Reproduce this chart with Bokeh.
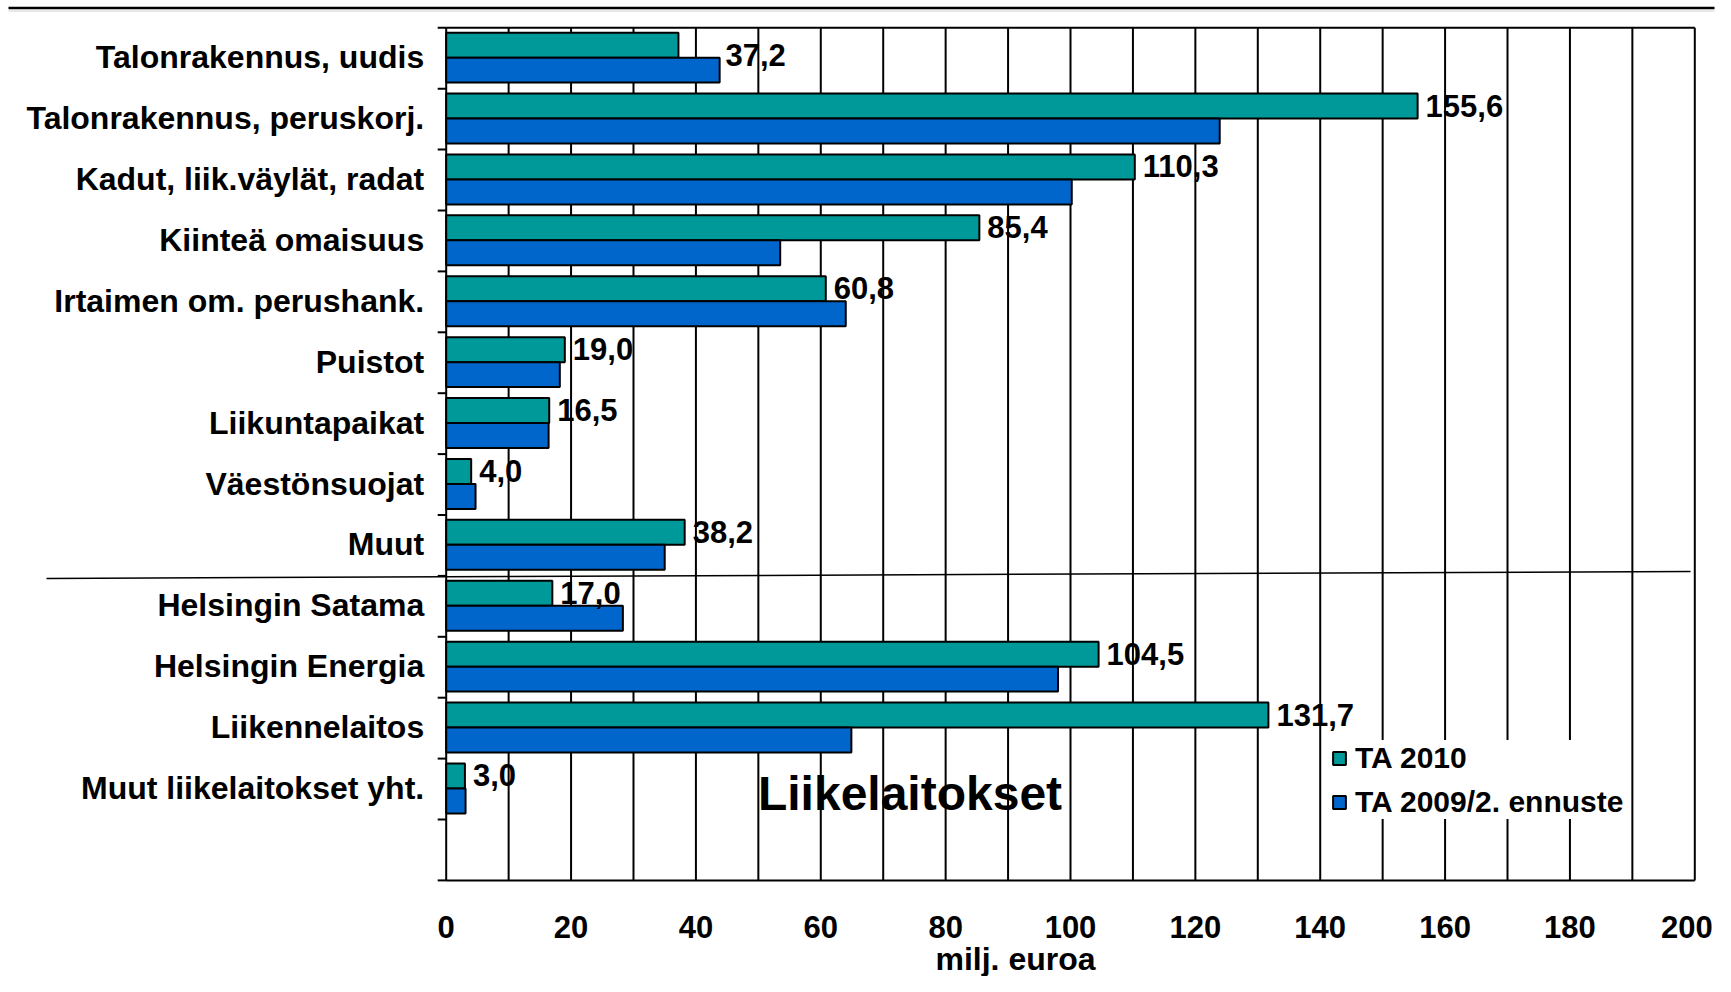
from bokeh.plotting import figure
from bokeh.models import Range1d, ColumnDataSource, Legend, LegendItem
from bokeh.core.properties import value
from bokeh.embed import file_html
from bokeh.resources import INLINE

# ---------------- data ----------------
categories = [
    "Talonrakennus, uudis",
    "Talonrakennus, peruskorj.",
    "Kadut, liik.väylät, radat",
    "Kiinteä omaisuus",
    "Irtaimen om. perushank.",
    "Puistot",
    "Liikuntapaikat",
    "Väestönsuojat",
    "Muut",
    "Helsingin Satama",
    "Helsingin Energia",
    "Liikennelaitos",
    "Muut liikelaitokset yht.",
]
ta2010 = [37.2, 155.6, 110.3, 85.4, 60.8, 19.0, 16.5, 4.0, 38.2, 17.0, 104.5, 131.7, 3.0]
ta2009 = [43.8, 123.9, 100.2, 53.5, 64.0, 18.2, 16.4, 4.7, 35.0, 28.3, 98.0, 64.9, 3.1]
series_names = ["TA 2010", "TA 2009/2. ennuste"]
x_ticks = [0, 20, 40, 60, 80, 100, 120, 140, 160, 180, 200]
x_tick_labels = [str(t) for t in x_ticks]
x_title = "milj. euroa"
group_title = "Liikelaitokset"
x_max = 200
grid_step = 10
n_slots = len(categories) + 1  # one empty slot at the bottom

# ---------------- layout / style ----------------
W, H = 1715, 976
X0_PX = 445.7      # canvas x of value 0
PX_PER_UNIT = 6.243
Y0_PX = 27.3       # canvas y of plot top
BAND_PX = 60.9
FONT = "Liberation Sans"
GREEN = "#009999"
BLUE = "#0066CC"
TICK_PX = 8.5
LABEL_GAP_PX = 8
# label moved right past the blue bar and a bit down, as in the original
LABEL_NUDGE_PX = {"Talonrakennus, uudis": (39, 10)}
TICK_LABEL_NUDGE_PX = {200: -8}   # keep the last tick label inside the canvas


def xd(px):
    return (px - X0_PX) / PX_PER_UNIT


def yd(py):
    return (py - Y0_PX) / BAND_PX


p = figure(
    width=W, height=H,
    x_range=Range1d(xd(0), xd(W)),
    y_range=Range1d(yd(H), yd(0)),
    output_backend="svg", toolbar_location=None,
    min_border=0, x_axis_location=None, y_axis_location=None,
    outline_line_color=None,
    background_fill_color="white", border_fill_color="white",
)
p.grid.visible = False

# vertical gridlines
gx = list(range(grid_step, x_max + 1, grid_step))
p.segment(x0=gx, y0=[0] * len(gx), x1=gx, y1=[n_slots] * len(gx),
          line_color="black", line_width=2)

# axis frame lines & category ticks
tick_len = TICK_PX / PX_PER_UNIT
p.segment(x0=[0], y0=[0], x1=[0], y1=[n_slots], line_color="black", line_width=2)
bounds = list(range(0, n_slots + 1))
p.segment(x0=[-tick_len] * len(bounds), y0=bounds, x1=[0] * len(bounds), y1=bounds,
          line_color="black", line_width=2)
p.segment(x0=[0, 0], y0=[0, n_slots], x1=[x_max, x_max], y1=[0, n_slots],
          line_color="black", line_width=2)

# bars
idx = list(range(len(categories)))
BAR_H = 0.41
src = ColumnDataSource(dict(
    y1=[i + 0.08 + BAR_H / 2 for i in idx],
    y2=[i + 0.08 + BAR_H * 1.5 for i in idx],
    a=ta2010, b=ta2009,
    lx=[v + (LABEL_GAP_PX + LABEL_NUDGE_PX.get(c, (0, 0))[0]) / PX_PER_UNIT
        for v, c in zip(ta2010, categories)],
    ly=[i + 0.49 + (LABEL_NUDGE_PX.get(c, (0, 0))[1] - 13) / BAND_PX
        for i, c in zip(idx, categories)],
    lt=[f"{v:.1f}".replace(".", ",") for v in ta2010],
    cy=[i + 0.5 - 1 / BAND_PX for i in idx],
    cat=categories,
))
r1 = p.hbar(y="y1", left=0, right="a", height=BAR_H, source=src,
            fill_color=GREEN, line_color="black", line_width=2)
r2 = p.hbar(y="y2", left=0, right="b", height=BAR_H, source=src,
            fill_color=BLUE, line_color="black", line_width=2)

# value labels
p.text(x="lx", y="ly", text="lt", source=src, text_font=value(FONT),
       text_font_style="bold", text_font_size="31px", text_color="black",
       text_baseline="middle", text_align="left")

# category labels
p.text(x=-22 / PX_PER_UNIT, y="cy", text="cat", source=src, text_font=value(FONT),
       text_font_style="bold", text_font_size="32px", text_color="black",
       text_baseline="middle", text_align="right")

# x tick labels
p.text(x=[t + TICK_LABEL_NUDGE_PX.get(t, 0) / PX_PER_UNIT for t in x_ticks],
       y=[yd(926)] * len(x_ticks), text=x_tick_labels,
       text_font=value(FONT), text_font_style="bold", text_font_size="31px",
       text_color="black", text_baseline="middle", text_align="center")

# x title
p.text(x=[xd(1015)], y=[yd(958)], text=[x_title], text_font=value(FONT),
       text_font_style="bold", text_font_size="32px", text_color="black",
       text_baseline="middle", text_align="center")

# group title
p.text(x=[xd(909.5)], y=[yd(793)], text=[group_title], text_font=value(FONT),
       text_font_style="bold", text_font_size="48px", text_color="black",
       text_baseline="middle", text_align="center")

# separator line (slightly slanted)
p.line(x=[xd(46), xd(1690)], y=[yd(578), yd(571)], line_color="black", line_width=1.5)

# top rule
p.line(x=[xd(8), xd(1714)], y=[yd(7.5), yd(7.5)], line_color="black", line_width=2.5)
p.line(x=[xd(8), xd(1714)], y=[yd(10.5), yd(10.5)], line_color="#cfcfcf", line_width=1.2)

legend = Legend(
    items=[LegendItem(label=series_names[0], renderers=[r1]),
           LegendItem(label=series_names[1], renderers=[r2])],
    location=(1331, 157),
    padding=5, spacing=9, margin=0,
    glyph_width=16, glyph_height=16, label_standoff=8, label_height=35,
    label_text_font=FONT, label_text_font_style="bold", label_text_font_size="30px",
    label_text_color="black",
    border_line_color=None, background_fill_color="white", background_fill_alpha=1.0,
)
p.add_layout(legend)

open("out.html", "w").write(file_html(p, INLINE))
